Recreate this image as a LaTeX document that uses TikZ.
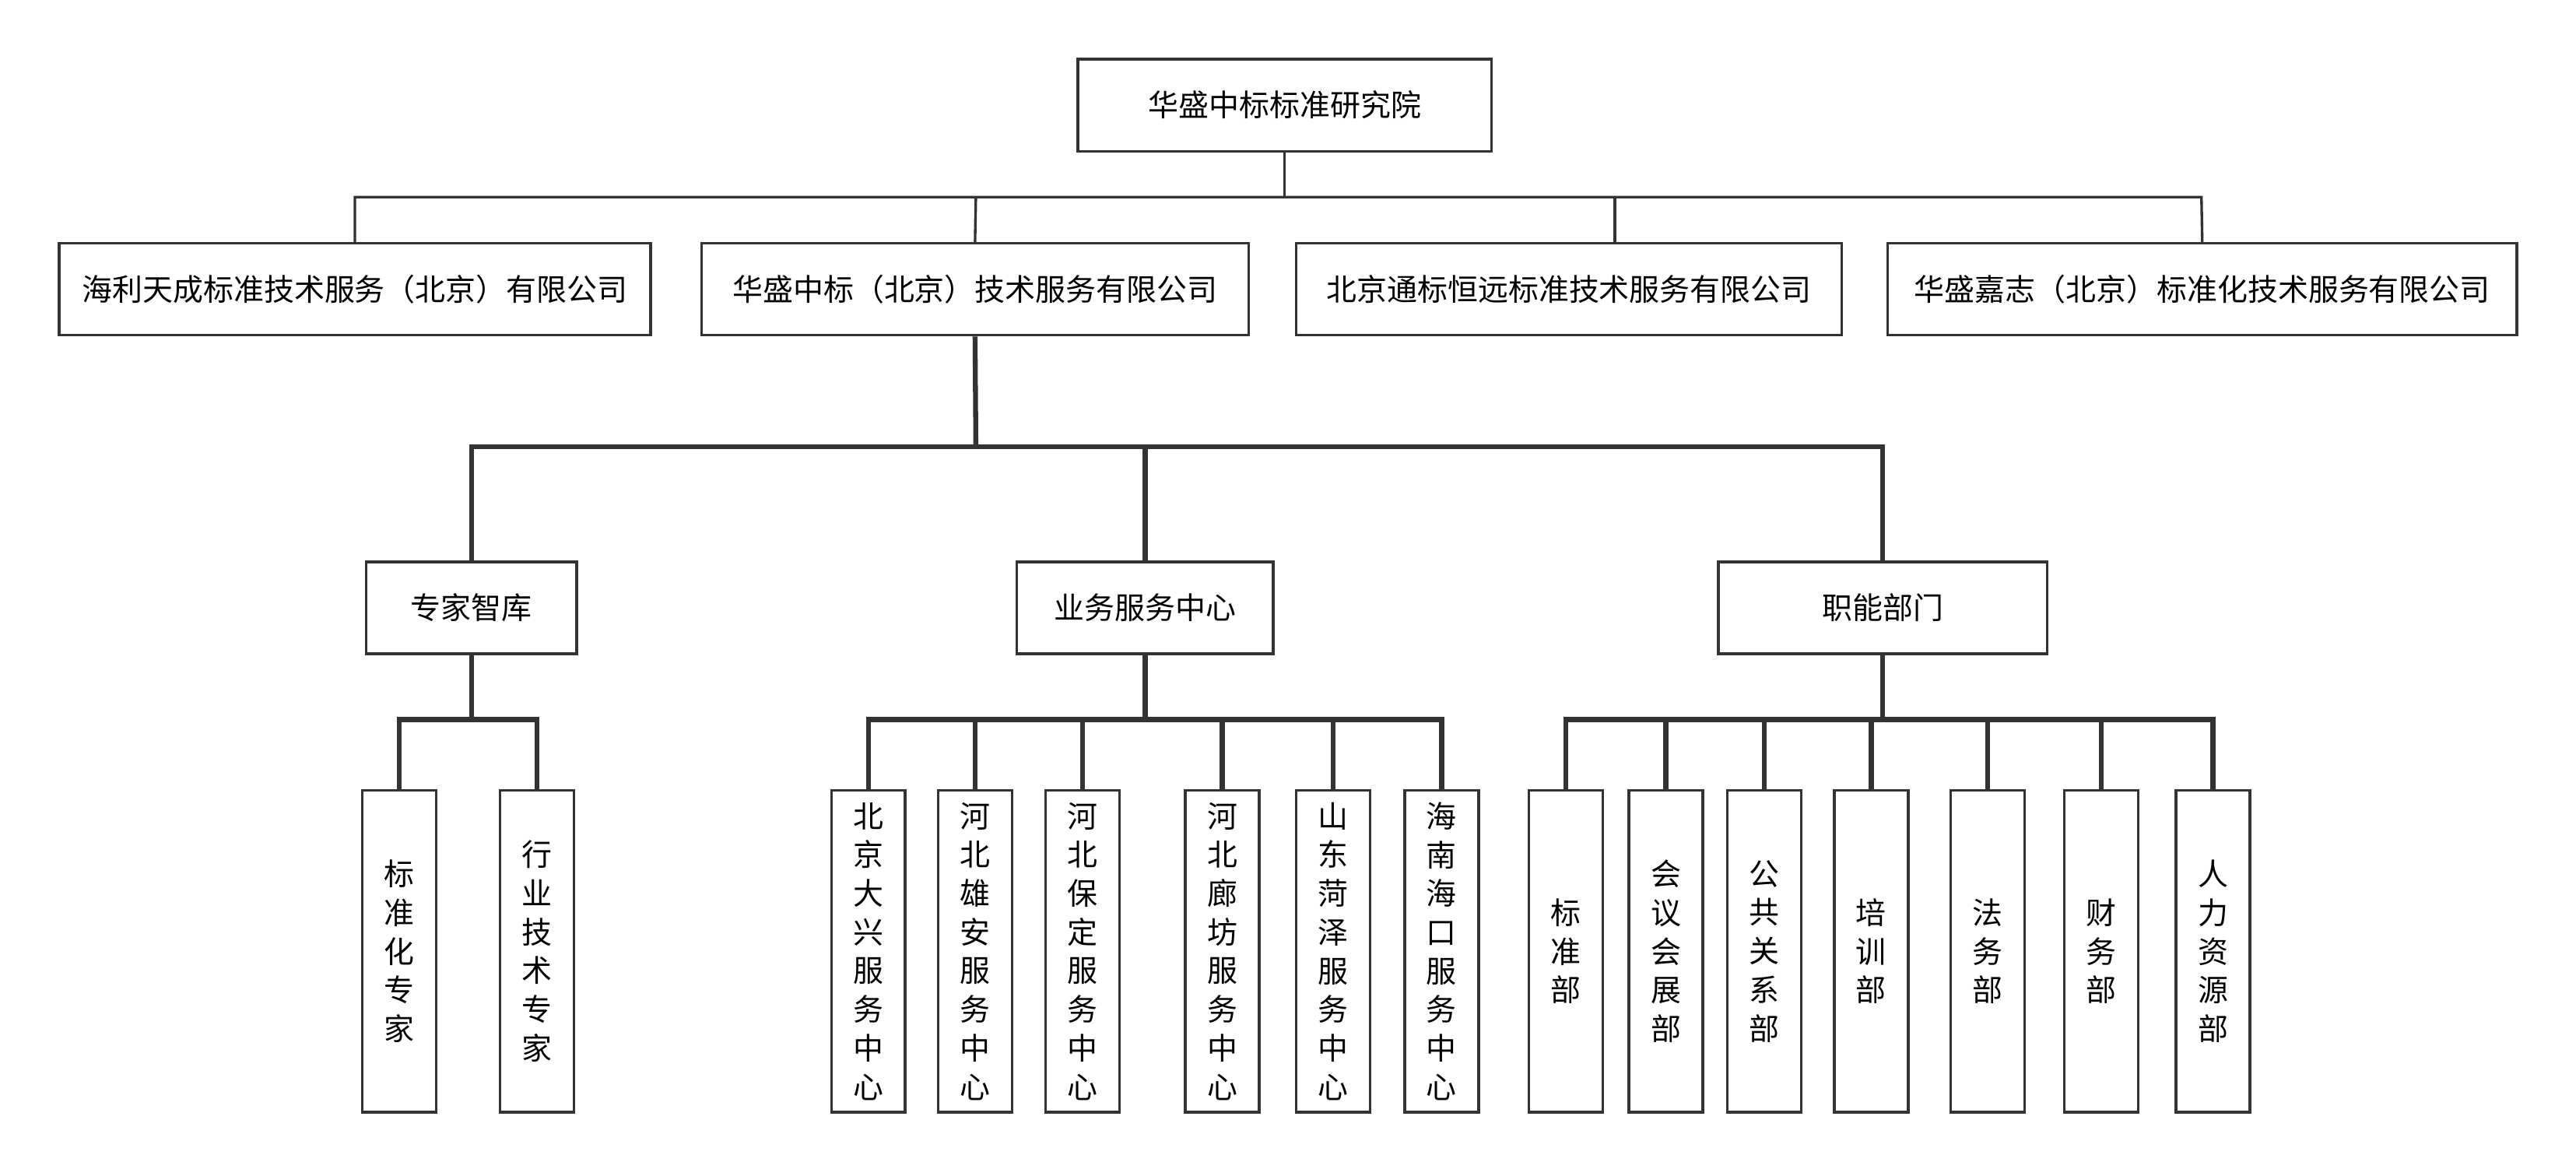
\documentclass[tikz,border=0pt]{standalone}
\usepackage{fontspec}
\setmainfont{Noto Sans CJK SC}
\begin{document}
\begin{tikzpicture}[x=0.02cm,y=-0.02cm,
  box/.style={draw=black!80,line width=0.9pt,fill=white,inner sep=0pt,font=\fontsize{10.5}{13.4}\selectfont,align=center},
  hb/.style={box,minimum height=1.12cm},
  vb/.style={box,minimum width=0.9cm,minimum height=3.92cm},
  thin/.style={draw=black!80,line width=0.9pt},
  thick/.style={draw=black!80,line width=1.7pt}]
\useasboundingbox (0,0) rectangle (1568,711.5);
\node[hb,minimum width=5.04cm] (top) at (782,64) {华盛中标标准研究院};
\node[hb,minimum width=7.2cm] (a) at (216,176) {海利天成标准技术服务（北京）有限公司};
\node[hb,minimum width=6.66cm] (b) at (593.5,176) {华盛中标（北京）技术服务有限公司};
\node[hb,minimum width=6.64cm] (c) at (955,176) {北京通标恒远标准技术服务有限公司};
\node[hb,minimum width=7.66cm] (d) at (1340.5,176) {华盛嘉志（北京）标准化技术服务有限公司};
\coordinate (j0) at (782,120);
\coordinate (ja) at (216,120);
\coordinate (jb) at (594,120);
\coordinate (jc) at (983,120);
\coordinate (jcd) at (983,148);
\coordinate (jd) at (1340,120);
\draw[thin] (top.south) -- (j0);
\draw[thin] (a.north) -- (ja) -- (jd) -- (d.north);
\draw[thin] (jb) -- (b.north);
\draw[thin] (jc) -- (jcd);
\node[hb,minimum width=2.56cm] (zj) at (287,370) {专家智库};
\node[hb,minimum width=3.12cm] (yw) at (697,370) {业务服务中心};
\node[hb,minimum width=4.0cm] (zn) at (1146,370) {职能部门};
\coordinate (k0) at (594,272);
\coordinate (k1) at (287,272);
\coordinate (k3) at (1146,272);
\coordinate (k2) at (697,272);
\draw[thick] (b.south) -- (k0);
\draw[thick] (zj.north) -- (k1) -- (k3) -- (zn.north);
\draw[thick] (k2) -- (yw.north);
% experts
\node[vb] (e1) at (243,579) {标\\准\\化\\专\\家};
\node[vb] (e2) at (327,579) {行\\业\\技\\术\\专\\家};
\coordinate (m1) at (287,438);
\draw[thick] (zj.south) -- (m1);
\draw[thick] (e1.north) |- (m1) -| (e2.north);
% service centers
\node[vb] (s1) at (528.5,579) {北\\京\\大\\兴\\服\\务\\中\\心};
\node[vb] (s2) at (593.5,579) {河\\北\\雄\\安\\服\\务\\中\\心};
\node[vb] (s3) at (659,579) {河\\北\\保\\定\\服\\务\\中\\心};
\node[vb] (s4) at (744,579) {河\\北\\廊\\坊\\服\\务\\中\\心};
\node[vb] (s5) at (811.5,579) {山\\东\\菏\\泽\\服\\务\\中\\心};
\node[vb] (s6) at (877.5,579) {海\\南\\海\\口\\服\\务\\中\\心};
\coordinate (m2) at (697,438);
\draw[thick] (yw.south) -- (m2);
\draw[thick] (s1.north) |- (m2) -| (s6.north);
\foreach \n in {s2,s3,s4,s5} \draw[thick] (\n.north) -- (\n.north |- m2);
% functions
\node[vb] (f1) at (953,579) {标\\准\\部};
\node[vb] (f2) at (1014,579) {会\\议\\会\\展\\部};
\node[vb] (f3) at (1074,579) {公\\共\\关\\系\\部};
\node[vb] (f4) at (1139,579) {培\\训\\部};
\node[vb] (f5) at (1210,579) {法\\务\\部};
\node[vb] (f6) at (1279,579) {财\\务\\部};
\node[vb] (f7) at (1347,579) {人\\力\\资\\源\\部};
\coordinate (m3) at (1146,438);
\draw[thick] (zn.south) -- (m3);
\draw[thick] (f1.north) |- (m3) -| (f7.north);
\foreach \n in {f2,f3,f4,f5,f6} \draw[thick] (\n.north) -- (\n.north |- m3);
\end{tikzpicture}
\end{document}
